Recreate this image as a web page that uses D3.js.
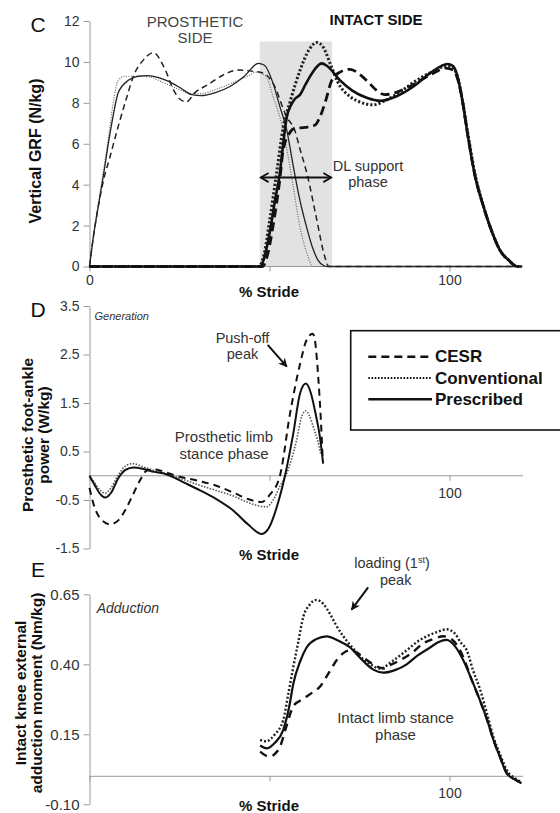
<!DOCTYPE html>
<html>
<head>
<meta charset="utf-8">
<script src="https://cdn.jsdelivr.net/npm/d3@7"></script>
<style>
  body { margin: 0; background: #fff; }
  svg { font-family: "Liberation Sans", Arial, sans-serif; }
  .axis path, .axis line { stroke: #999; }
  .axis text { fill: #333; }
</style>
</head>
<body>
<svg id="chart"></svg>
<script>
// ---- data: [% stride, value] ----
// panel C, vertical GRF (N/kg), prosthetic side (thin lines)
const grfProsCesr = [[0,0],[1.2,1.6],[2.5,3.0],[4,4.3],[5.6,5.3],[7.9,6.8],[10.4,8.3],[12.2,9.3],[15,10.1],[17.7,10.45],[21,9.63],[23.3,8.65],[25,8.2],[26.9,8.05],[29.3,8.5],[33,8.9],[37,9.35],[41.3,9.6],[45,9.55],[48.3,9.45],[51,8.95],[54.8,7.3],[57,6.67],[58.3,5.85],[60.6,4.4],[63,2.4],[65.4,0.45],[66.5,0],[118,0]];
const grfProsConv = [[0,0],[1.2,1.6],[2.5,3.1],[4,4.8],[5.5,6.6],[6.5,7.9],[8,9.1],[10,9.3],[14,9.3],[17,9.25],[21,8.95],[25,8.65],[28,8.45],[31,8.45],[35,8.65],[40,9.0],[45,9.4],[46,9.5],[49,9.3],[51,8.3],[53.8,6.67],[56.5,4.0],[58.5,1.9],[60.5,0.6],[62,0],[118,0]];
const grfProsPres = [[0,0],[1.2,1.6],[2.5,3.0],[4,4.6],[5.5,6.3],[6.5,7.3],[8,8.5],[10.8,9.1],[13.5,9.3],[16.3,9.33],[19,9.25],[22,9.05],[25.5,8.7],[28.4,8.4],[31,8.35],[35,8.5],[39,8.8],[43,9.3],[46.9,9.93],[48.5,9.85],[51,8.95],[52.9,7.8],[54.8,6.67],[56.5,5.0],[58.5,3.2],[60.5,1.8],[62,0.9],[63.5,0.3],[65,0.05],[66,0],[118,0]];
// panel C, intact side (thick lines)
const grfIntCesr = [[0,0],[48,0],[49.5,0.6],[51,2.0],[52.9,4.3],[53.8,5.7],[55.5,6.5],[57,6.75],[60,6.8],[62.6,6.9],[64,7.3],[65.6,8.1],[67.3,9.1],[69.6,9.5],[72.4,9.64],[75,9.4],[77.5,9.0],[79.8,8.6],[82,8.4],[85,8.5],[90,8.9],[95,9.4],[99,9.7],[101,9.6],[102.2,9.2],[103.5,8.2],[105,6.5],[107,4.5],[109.5,2.9],[112,1.6],[114,0.8],[116.5,0.3],[118.8,0],[120,0]];
const grfIntConv = [[0,0],[47,0],[48.5,0.6],[50,2.2],[52,4.6],[53.8,6.8],[55.8,8.1],[58.5,9.6],[61,10.6],[63.2,10.95],[65,10.7],[66.9,9.9],[69,9.0],[72.4,8.3],[75,8.05],[78.9,7.9],[82,8.1],[86,8.5],[90,9.0],[95,9.5],[99.4,9.8],[101,9.7],[102.2,9.3],[103.5,8.2],[105,6.6],[107,4.6],[109.5,2.9],[112,1.6],[114,0.8],[116.5,0.3],[118.8,0],[120,0]];
const grfIntPres = [[0,0],[47.4,0],[48.5,0.4],[50,1.6],[51.5,3.2],[52.9,4.6],[53.8,6.0],[54.8,7.3],[56,7.9],[57.1,8.2],[58.5,8.4],[60,8.9],[62,9.5],[64.5,9.93],[66,9.8],[69.6,9.1],[73,8.6],[77,8.25],[80.8,8.1],[85,8.3],[90,8.8],[95,9.5],[99.4,9.9],[101,9.8],[102.2,9.3],[103.5,8.2],[105,6.5],[107,4.5],[109.5,2.9],[112,1.6],[114,0.8],[116.5,0.3],[118.8,0],[120,0]];

// panel D, prosthetic foot-ankle power (W/kg)
const powCesr = [[0,-0.25],[1,-0.55],[3,-0.88],[5.7,-1.0],[8,-0.92],[10,-0.7],[12,-0.4],[14,-0.1],[16,0.11],[18,0.13],[20,0.1],[24,0],[30,-0.1],[35,-0.2],[40,-0.35],[44,-0.48],[47.8,-0.54],[50,-0.4],[52.9,0],[55.7,1.28],[58.5,2.31],[60.3,2.8],[62,2.93],[62.6,2.8],[63.6,1.97],[64.3,1.1],[64.8,0.3]];
const powConv = [[0,0],[1.5,-0.15],[3,-0.3],[4.3,-0.36],[6,-0.25],[8,0.02],[10,0.2],[12,0.25],[15,0.18],[20,0.06],[25,-0.05],[30,-0.18],[35,-0.3],[40,-0.42],[44,-0.55],[47,-0.62],[49.2,-0.64],[51,-0.5],[53,-0.2],[54.5,0],[57.5,0.73],[58.9,1.21],[60.1,1.34],[61,1.25],[62.2,1.0],[63.3,0.75],[64.2,0.46]];
const powPres = [[0,0],[1.5,-0.2],[3,-0.38],[4.3,-0.45],[6,-0.35],[8,-0.05],[10,0.12],[12.2,0.17],[15,0.14],[18,0.08],[20.5,0.05],[22.4,0],[26,-0.13],[30.7,-0.3],[35,-0.47],[40,-0.72],[44,-1.0],[47.8,-1.2],[50,-1.05],[52,-0.65],[54.3,0],[56.6,0.87],[58.5,1.7],[60.1,1.9],[61.5,1.7],[62.6,1.35],[64,0.8],[64.9,0.25]];

// panel E, intact knee external adduction moment (Nm/kg)
const kamCesr = [[47.4,0.088],[48.8,0.075],[50.1,0.07],[51.5,0.08],[52.9,0.105],[54.5,0.17],[56.6,0.25],[58.5,0.27],[60.3,0.285],[62,0.3],[64,0.32],[66.5,0.37],[68.7,0.415],[70.5,0.44],[72.4,0.45],[74.5,0.44],[76.5,0.42],[78.8,0.40],[81.6,0.385],[84,0.4],[86.3,0.415],[89.5,0.44],[92.7,0.475],[95.5,0.49],[98.3,0.50],[100.5,0.49],[102.5,0.46],[104,0.42],[106,0.35],[108.5,0.27],[110.5,0.2],[112.2,0.13],[114,0.07],[116,0.01],[118,-0.01],[120,-0.025]];
const kamConv = [[47.4,0.13],[49,0.125],[51.5,0.15],[53.8,0.2],[55.3,0.3],[56.6,0.39],[58,0.48],[59.4,0.57],[61,0.61],[63.1,0.63],[65,0.615],[66.8,0.58],[68.5,0.54],[70.5,0.5],[73,0.46],[75.1,0.43],[78,0.40],[80.7,0.385],[84,0.41],[88.1,0.45],[91,0.48],[93.7,0.50],[96.5,0.515],[99.2,0.525],[101.5,0.51],[103,0.48],[104.8,0.45],[106.5,0.38],[108.5,0.31],[110.5,0.22],[112.2,0.14],[114,0.08],[116,0.02],[118,-0.005],[120,-0.02]];
const kamPres = [[47.4,0.11],[49.2,0.1],[51.5,0.12],[53.8,0.165],[55.5,0.25],[56.6,0.33],[58.5,0.41],[60.3,0.46],[63,0.49],[65.9,0.5],[69,0.485],[72.4,0.46],[75,0.425],[77,0.40],[79,0.38],[81.6,0.37],[85,0.38],[88.1,0.40],[91,0.43],[94.6,0.46],[97,0.48],[99.2,0.487],[101.5,0.465],[103.8,0.415],[106,0.35],[108.5,0.27],[110.5,0.2],[112.2,0.13],[114,0.07],[115.9,0.01],[118,-0.01],[120,-0.025]];

const grfTicks = [0, 2, 4, 6, 8, 10, 12];
const powTicks = [-1.5, -0.5, 0.5, 1.5, 2.5, 3.5];
const kamTicks = [-0.10, 0.15, 0.40, 0.65];
const strideTicks = [0, 50, 100];
const legendNames = ['CESR', 'Conventional', 'Prescribed'];
const dlPhase = [47.3, 67.4];   // double limb support band (% stride)

const width = 560, height = 813;
const svg = d3.select('#chart').attr('width', width).attr('height', height);

const x = d3.scaleLinear().domain([0, 120]).range([89.5, 521.5]);
const yC = d3.scaleLinear().domain([0, 12]).range([266.5, 21]);
const yD = d3.scaleLinear().domain([-1.5, 3.5]).range([548.5, 306]);
const yE = d3.scaleLinear().domain([-0.1, 0.65]).range([804.3, 594.3]);

function drawLine(data, y, st) {
  const line = d3.line().x(d => x(d[0])).y(d => y(d[1])).curve(d3.curveMonotoneX);
  svg.append('path')
    .datum(data)
    .attr('d', line)
    .attr('fill', 'none')
    .attr('stroke', st.c)
    .attr('stroke-width', st.w)
    .attr('stroke-dasharray', st.dash)
    .attr('stroke-linejoin', 'round');
}

function yAxis(y, ticks, digits, size) {
  const g = svg.append('g').attr('class', 'axis')
    .attr('transform', `translate(${x(0)},0)`)
    .call(d3.axisLeft(y).tickValues(ticks).tickFormat(d => d.toFixed(digits))
      .tickSize(6).tickSizeOuter(0).tickPadding(4));
  g.selectAll('text').style('font-size', size + 'px');
  return g;
}

function xAxis(y0, labels, pad) {
  const g = svg.append('g').attr('class', 'axis')
    .attr('transform', `translate(0,${y0})`)
    .call(d3.axisBottom(x).tickValues(strideTicks).tickFormat(d => labels.includes(d) ? d : '')
      .tickSize(5).tickSizeOuter(0).tickPadding(pad));
  g.select('.domain').attr('d', `M${x(0)},0H${x(0) + 433.5}`);
  g.selectAll('text').style('font-size', '14px');
  return g;
}

function text(t, px, py, opts = {}) {
  return svg.append('text')
    .attr('x', px).attr('y', py)
    .attr('text-anchor', opts.anchor || 'middle')
    .style('font-size', (opts.size || 15) + 'px')
    .style('font-weight', opts.bold ? 'bold' : 'normal')
    .style('font-style', opts.italic ? 'italic' : 'normal')
    .attr('fill', opts.fill || '#222')
    .text(t);
}

function rotTitle(lines, cx, cy, size) {
  const t = svg.append('text')
    .attr('transform', `translate(${cx},${cy}) rotate(-90)`)
    .attr('text-anchor', 'middle')
    .style('font-size', size + 'px')
    .style('font-weight', 'bold')
    .attr('fill', '#111');
  lines.forEach((l, i) => {
    t.append('tspan').attr('x', 0).attr('dy', i === 0 ? 0 : '1.0em').text(l);
  });
}

const defs = svg.append('defs');
defs.append('marker')
  .attr('id', 'head').attr('viewBox', '0 0 10 10')
  .attr('refX', 9).attr('refY', 5)
  .attr('markerWidth', 9).attr('markerHeight', 9)
  .attr('markerUnits', 'userSpaceOnUse')
  .attr('orient', 'auto-start-reverse')
  .append('path').attr('d', 'M0,0L10,5L0,10L3,5Z').attr('fill', '#111');
defs.append('marker')
  .attr('id', 'chev').attr('viewBox', '0 0 12 12')
  .attr('refX', 10.5).attr('refY', 6)
  .attr('markerWidth', 11).attr('markerHeight', 11)
  .attr('markerUnits', 'userSpaceOnUse')
  .attr('orient', 'auto-start-reverse')
  .append('path').attr('d', 'M2,1L10.5,6L2,11')
  .attr('fill', 'none').attr('stroke', '#111').attr('stroke-width', 2);

// ---------- panel C ----------
svg.append('rect')
  .attr('x', x(dlPhase[0])).attr('y', yC(11))
  .attr('width', x(dlPhase[1]) - x(dlPhase[0]))
  .attr('height', yC(0) - yC(11))
  .attr('fill', '#e2e2e2');

yAxis(yC, grfTicks, 0, 14);
xAxis(yC(0), [0, 100], 4);

drawLine(grfProsCesr, yC, { dash: '6,4', w: 1.5, c: '#222' });
drawLine(grfProsConv, yC, { dash: '1,1.5', w: 1.2, c: '#666' });
drawLine(grfProsPres, yC, { dash: null, w: 1.3, c: '#222' });
drawLine(grfIntCesr, yC, { dash: '9,5', w: 2.8, c: '#111' });
drawLine(grfIntConv, yC, { dash: '2.2,2', w: 3, c: '#222' });
drawLine(grfIntPres, yC, { dash: null, w: 2.6, c: '#111' });

svg.append('line')
  .attr('x1', x(dlPhase[0]) + 1).attr('x2', x(dlPhase[1]) - 1)
  .attr('y1', yC(4.35)).attr('y2', yC(4.35))
  .attr('stroke', '#111').attr('stroke-width', 2)
  .attr('marker-start', 'url(#chev)').attr('marker-end', 'url(#chev)');

text('C', 38, 31.5, { size: 21, fill: '#111' });
text('PROSTHETIC', 195, 26.7, { size: 15, fill: '#444' });
text('SIDE', 195, 42.7, { size: 15, fill: '#444' });
text('INTACT SIDE', 376, 25, { size: 15, bold: true, fill: '#111' });
text('DL support', 368, 171, { size: 14.5, fill: '#333' });
text('phase', 368, 187, { size: 14.5, fill: '#333' });
text('% Stride', 269, 296.7, { size: 15, bold: true, fill: '#111' });
rotTitle(['Vertical GRF (N/kg)'], 41, 151, 16);

// ---------- panel D ----------
yAxis(yD, powTicks, 1, 14);
xAxis(yD(0), [100], 7);

drawLine(powCesr, yD, { dash: '7,5', w: 2, c: '#111' });
drawLine(powConv, yD, { dash: '1.5,1.5', w: 1.6, c: '#555' });
drawLine(powPres, yD, { dash: null, w: 2, c: '#111' });

text('D', 38, 317, { size: 21, fill: '#111' });
text('Generation', 94.5, 320, { size: 11, italic: true, anchor: 'start', fill: '#333' });
text('Push-off', 242.5, 343.3, { size: 14.5, fill: '#333' });
text('peak', 242.5, 358.5, { size: 14.5, fill: '#333' });
text('Prosthetic limb', 224, 441.5, { size: 15, fill: '#333' });
text('stance phase', 224, 458.5, { size: 15, fill: '#333' });
text('% Stride', 269, 560, { size: 15, bold: true, fill: '#111' });
rotTitle(['Prosthetic foot-ankle', 'power (W/kg)'], 33, 435, 15.5);

svg.append('line')
  .attr('x1', x(49.5)).attr('y1', yD(2.7))
  .attr('x2', x(54.8)).attr('y2', yD(2.25))
  .attr('stroke', '#111').attr('stroke-width', 2)
  .attr('marker-end', 'url(#head)');

// legend
const legend = svg.append('g');
legend.append('rect')
  .attr('x', 350.7).attr('y', 330.7).attr('width', 230).attr('height', 99.3)
  .attr('fill', '#fff').attr('stroke', '#111').attr('stroke-width', 1.6);
const legendStyles = [
  { dash: '8,5', w: 2.6 },
  { dash: '1.6,1.6', w: 2 },
  { dash: null, w: 2.4 }
];
legendNames.forEach((name, i) => {
  const ly = 356.7 + i * 21.3;
  legend.append('line')
    .attr('x1', 368.3).attr('x2', 432).attr('y1', ly).attr('y2', ly)
    .attr('stroke', '#111').attr('stroke-width', legendStyles[i].w)
    .attr('stroke-dasharray', legendStyles[i].dash);
  legend.append('text')
    .attr('x', 435).attr('y', ly + 5.5)
    .style('font-size', '17px').style('font-weight', 'bold')
    .attr('fill', '#111').text(name);
});

// ---------- panel E ----------
yAxis(yE, kamTicks, 2, 15);
xAxis(yE(0), [100], 7);

drawLine(kamCesr, yE, { dash: '8,6', w: 2.4, c: '#111' });
drawLine(kamConv, yE, { dash: '2,2', w: 2.4, c: '#222' });
drawLine(kamPres, yE, { dash: null, w: 2.2, c: '#111' });

text('E', 38, 577, { size: 21, fill: '#111' });
text('Adduction', 96.7, 613.3, { size: 14, italic: true, anchor: 'start', fill: '#333' });
const load = text('loading (1', 392, 568.3, { size: 14.5, fill: '#333' });
load.append('tspan').attr('dy', -5).style('font-size', '9px').text('st');
load.append('tspan').attr('dy', 5).text(')');
text('peak', 395.7, 585, { size: 14.5, fill: '#333' });
text('Intact limb stance', 395.5, 723.3, { size: 15, fill: '#333' });
text('phase', 395.5, 740, { size: 15, fill: '#333' });
text('% Stride', 269, 810.5, { size: 15, bold: true, fill: '#111' });
rotTitle(['Intact knee external', 'adduction moment (Nm/kg)'], 26, 693, 15.5);

svg.append('line')
  .attr('x1', x(77.4)).attr('y1', yE(0.675))
  .attr('x2', x(72.8)).attr('y2', yE(0.595))
  .attr('stroke', '#111').attr('stroke-width', 2)
  .attr('marker-end', 'url(#head)');
</script>
</body>
</html>
